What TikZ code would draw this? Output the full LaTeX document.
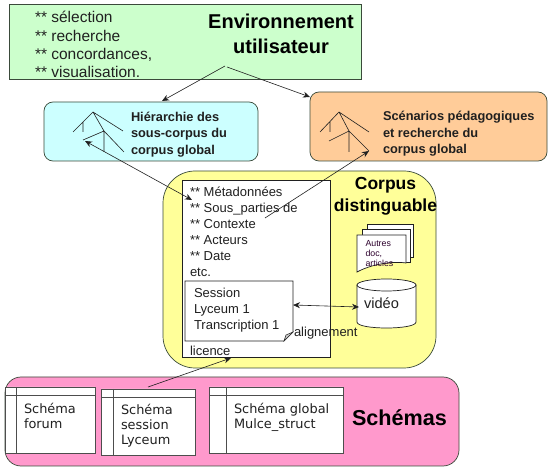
\documentclass[tikz,border=0pt]{standalone}
\usepackage{fontspec}
\setmainfont{Liberation Sans}
\newfontfamily\schemafont{DejaVu Sans}
\usetikzlibrary{arrows.meta}
\definecolor{grn}{HTML}{CCFFCC}
\definecolor{blu}{HTML}{CCFFFF}
\definecolor{org}{HTML}{FFCC99}
\definecolor{yel}{HTML}{FFFF99}
\definecolor{pnk}{HTML}{FF99CC}
\definecolor{edge}{HTML}{3A4A3A}
\definecolor{ink}{HTML}{202020}
\tikzset{
 x=1pt,y=-1pt,
 txt/.style={anchor=north west,inner sep=0pt,outer sep=0pt,align=left,text=ink},
 ctr/.style={inner sep=0pt,outer sep=0pt,align=center,text=black},
 panel/.style={draw=edge,line width=0.7pt},
 paper/.style={draw=ink,line width=0.7pt,fill=white},
 treeline/.style={draw=ink,line width=0.6pt},
 arr/.style={draw=ink,line width=0.6pt,-{Stealth[length=7pt,width=6pt]}},
 darr/.style={draw=ink,line width=0.6pt,{Stealth[length=7pt,width=6pt]}-{Stealth[length=7pt,width=6pt]}},
 schema/.style={draw=ink!80,line width=0.7pt,fill=white},
}
\newcommand{\fs}[2]{\fontsize{#1}{#2}\selectfont}
\begin{document}
\begin{tikzpicture}
\useasboundingbox (0,0) rectangle (550,468);
\fill[white] (0,0) rectangle (550,468);
% panels
\draw[panel,fill=grn] (9,4) rectangle (361,79);
\draw[panel,fill=blu,rounded corners=9pt] (44,102) rectangle (258,161);
\draw[panel,fill=org,rounded corners=9pt] (310,92) rectangle (547,161);
\draw[panel,fill=yel,rounded corners=32pt] (163,171) rectangle (436,368);
\draw[panel,fill=pnk,rounded corners=16pt] (5,377) rectangle (459,466);
% green text
\node[txt,font=\fs{15.5}{18.2}] (envlist) at (35,11.5) {** sélection\\** recherche\\** concordances,\\** visualisation.};
\node[ctr,font=\bfseries\fs{20}{24.5}] (envtitle) at (281,34) {Environnement\\utilisateur};
% blue
\node[txt,font=\bfseries\fs{12.8}{16.5}] (hier) at (131,112) {Hiérarchie des\\sous-corpus du\\corpus global};
\draw[treeline] (73,132)--(93,112)--(123,131) (93,112)--(104,131)--(124,152) (83,122)--(83,132) (83,140)--(104,131)--(104,152);
% orange
\node[txt,font=\bfseries\fs{12.8}{16.5}] (scen) at (383,111.5) {Scénarios pédagogiques\\et recherche du\\corpus global};
\draw[treeline] (320,132)--(339,112)--(369,132) (339,112)--(349,131)--(369,151) (330,122)--(330,132) (329,141)--(349,131)--(349,152);
% document
\draw[paper] (182,180) rectangle (330,357);
\node[txt,font=\fs{13}{16}] (meta) at (190,186.5) {** Métadonnées\\** Sous\_parties de\\** Contexte\\** Acteurs\\** Date\\etc.};
\node[ctr,font=\bfseries\fs{17.5}{21.5}] (corpus) at (385.5,196) {Corpus\\distinguable};
% session
\draw[paper] (185,281)--(293,281)--(293,332)--(284,341)--(185,341)--cycle;
\draw[draw=ink,line width=0.5pt,fill=white!80!black] (293,332)--(286,335)--(284,341)--cycle;
\node[txt,font=\fs{13}{15.8}] (session) at (194,288) {Session\\Lyceum 1\\Transcription 1};
\node[txt,font=\fs{13}{15}] (lic) at (190,346) {licence};
\node[txt,font=\fs{13}{15}] (align) at (294,327) {alignement};
% stacked pages
\draw[paper] (367,224)--(413,224)--(413,257)--(367,257)--cycle;
\draw[paper] (362,229)--(410,229)--(410,262)--(362,262)--cycle;
\draw[paper] (357,235)--(406,235)--(406,263) .. controls (392,261) and (372,264) .. (357,272) --cycle;
\node[txt,font=\fs{8.8}{10.2},text=black!65!violet] (autres) at (365.5,240) {Autres\\doc,\\articles};
% cylinder
\draw[paper] (357,285)--(357,322) .. controls (357,330) and (416,330) .. (416,322)--(416,285);
\draw[paper] (386.5,285) ellipse [x radius=29.5,y radius=6];
\node[txt,font=\fs{14.6}{17}] (video) at (364,298) {vidéo};
% schema boxes
\draw[schema] (5,387) rectangle (95,453) (16,387)--(16,453) (5,395)--(95,395);
\draw[schema] (101,389) rectangle (195,455) (113,389)--(113,455) (101,397)--(195,397);
\draw[schema] (209,387) rectangle (343,453) (226,387)--(226,453) (209,395)--(343,395);
\node[txt,font=\schemafont\fs{12.9}{15.3}] (s1) at (24,403) {Schéma\\forum};
\node[txt,font=\schemafont\fs{12.9}{15.3}] (s2) at (121,404) {Schéma\\session\\Lyceum};
\node[txt,font=\schemafont\fs{12.9}{15.3}] (s3) at (234,403) {Schéma global\\Mulce\_struct};
\node[ctr,font=\bfseries\fs{21.6}{25}] (schemas) at (399.5,417.5) {Schémas};
% connector end points
\coordinate (a1) at (225,66); \coordinate (a2) at (162,101);
\coordinate (b1) at (227,67); \coordinate (b2) at (310,97);
\coordinate (c1) at (85,141); \coordinate (c2) at (192,200);
\coordinate (d1) at (265,218); \coordinate (d2) at (369,151);
\coordinate (e1) at (293,305); \coordinate (e2) at (359,307);
\coordinate (f1) at (148,387); \coordinate (f2) at (231,358);
\draw[arr] (a1)--(a2);
\draw[arr] (b1)--(b2);
\draw[darr] (c1)--(c2);
\draw[arr] (d1)--(d2);
\draw[darr] (e1)--(e2);
\draw[arr] (f1)--(f2);
\end{tikzpicture}
\end{document}
